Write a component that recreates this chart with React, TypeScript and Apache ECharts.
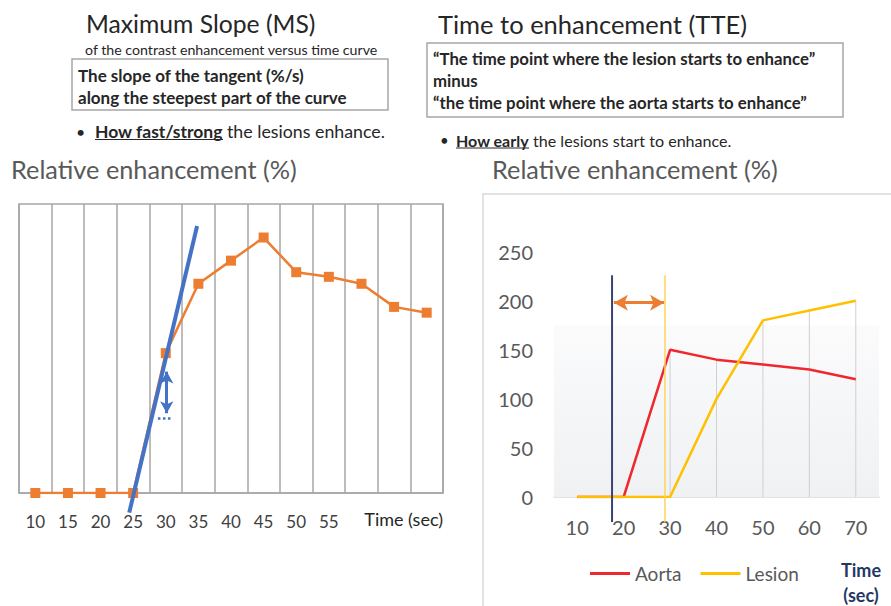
import React, { useEffect, useRef } from "react";
import * as echarts from "echarts";

// Left chart: maximum slope
const leftTimes = ["10", "15", "20", "25", "30", "35", "40", "45", "50", "55", "60", "65", "70"];
const leftValues = [0, 0, 0, 0, 121, 181, 201, 221, 191, 187, 181, 161, 156];
const tangentTime = [24.4, 34.8];
const tangentValue = [-17, 231];
const arrowTime = 30.15;
const arrowTop = 105;
const arrowBottom = 69;
const dotTime = [28.8, 31.1];
const dotValue = 65;

// Right chart: time to enhancement
const rightTimes = ["10", "20", "30", "40", "50", "60", "70"];
const aorta = [0, 0, 150, 140, 135, 130, 120];
const lesion = [0, 0, 0, 100, 180, 190, 200];
const aortaStart = 17.5;
const lesionStart = 28.9;
const markTop = 226;
const markBottom = -25.5;
const ttArrowTime = [17.9, 28.7];
const ttArrowValue = 198;
const floorTop = 175;

const F = "Lato, 'Open Sans', sans-serif";

export default function App() {
  const ref = useRef<HTMLDivElement>(null);
  useEffect(() => {
    const chart = echarts.init(ref.current!, null, { renderer: "svg" });
    const drop = aorta.map((a, i) => Math.max(a, lesion[i]));
    const txt = (x: number, y: number, text: string, size: number, opts: any = {}) => ({
      type: "text",
      x,
      y,
      z: 10,
      style: {
        text,
        fontSize: size,
        fontFamily: F,
        fontWeight: opts.bold ? "bold" : "normal",
        fill: opts.fill || "#262626",
        align: opts.align || "left",
        verticalAlign: "middle",
        lineHeight: opts.lineHeight,
      },
    });
    chart.setOption({
      animation: false,
      backgroundColor: "#ffffff",
      textStyle: { fontFamily: F },
      legend: {
        data: ["Aorta", "Lesion"],
        left: 585,
        top: 559,
        icon: "rect",
        itemWidth: 40,
        itemHeight: 3,
        itemGap: 19,
        textStyle: { fontSize: 19, color: "#595959", fontFamily: F },
      },
      grid: [
        { left: 19, top: 204, width: 424, height: 289, show: true, borderColor: "#a6a6a6", borderWidth: 1.5, backgroundColor: "transparent" },
        { left: 554, top: 251.7, width: 325, height: 245.3 },
      ],
      xAxis: [
        {
          type: "category",
          gridIndex: 0,
          data: leftTimes,
          boundaryGap: true,
          axisLine: { lineStyle: { color: "#a6a6a6", width: 1.5 } },
          axisTick: { show: false },
          splitLine: { show: true, interval: 0, lineStyle: { color: "#a6a6a6", width: 1.5 } },
          axisLabel: {
            interval: 0,
            fontSize: 17,
            color: "#404040",
            margin: 20,
            formatter: (v: string, i: number) => (i < 10 ? v : ""),
          },
          name: "Time (sec)",
          nameLocation: "end",
          nameGap: 0,
          nameTextStyle: { fontSize: 18, color: "#262626", align: "right", verticalAlign: "top", padding: [17, 0, 0, 0], fontFamily: F },
        },
        { type: "value", gridIndex: 0, min: 7.5, max: 72.5, show: false },
        {
          type: "category",
          gridIndex: 1,
          data: rightTimes,
          boundaryGap: true,
          axisLine: { lineStyle: { color: "#d9d9d9", width: 1.5 } },
          axisTick: { show: false },
          splitLine: { show: false },
          axisLabel: { fontSize: 20, color: "#595959", margin: 20 },
        },
        { type: "value", gridIndex: 1, min: 5, max: 75, show: false },
      ],
      yAxis: [
        { type: "value", gridIndex: 0, min: 0, max: 250, show: false },
        {
          type: "value",
          gridIndex: 1,
          min: 0,
          max: 250,
          interval: 50,
          axisLine: { show: false },
          axisTick: { show: false },
          splitLine: { show: false },
          axisLabel: { fontSize: 20, color: "#595959", margin: 21 },
        },
      ],
      series: [
        {
          name: "Curve",
          type: "line",
          xAxisIndex: 0,
          yAxisIndex: 0,
          data: leftValues,
          symbol: "rect",
          symbolSize: 10,
          itemStyle: { color: "#ED7D31" },
          lineStyle: { color: "#ED7D31", width: 2.5 },
          z: 3,
        },
        {
          name: "Tangent",
          type: "line",
          xAxisIndex: 1,
          yAxisIndex: 0,
          data: tangentTime.map((t, i) => [t, tangentValue[i]]),
          symbol: "none",
          clip: false,
          lineStyle: { color: "#4472C4", width: 4 },
          z: 5,
          markLine: {
            silent: true,
            label: { show: false },
            symbol: ["arrow", "arrow"],
            symbolSize: [10, 12],
            lineStyle: { color: "#4472C4", width: 3, type: "solid" },
            data: [
              [{ coord: [arrowTime, arrowTop] }, { coord: [arrowTime, arrowBottom] }],
              [
                { coord: [dotTime[0], dotValue], symbol: "none", lineStyle: { type: "dotted", width: 2.5, color: "#4472C4" } },
                { coord: [dotTime[1], dotValue], symbol: "none" },
              ],
            ],
          },
        },
        {
          name: "Drop",
          type: "bar",
          xAxisIndex: 2,
          yAxisIndex: 1,
          data: drop,
          barWidth: 1,
          silent: true,
          itemStyle: { color: "#d0d0d0" },
          z: 2,
          markArea: {
            silent: true,
            itemStyle: {
              color: new echarts.graphic.LinearGradient(0, 0, 0, 1, [
                { offset: 0, color: "#fbfbfc" },
                { offset: 1, color: "#eff1f3" },
              ]),
            },
            data: [[{ yAxis: 0 }, { yAxis: floorTop }]],
          },
        },
        {
          name: "Aorta",
          type: "line",
          xAxisIndex: 2,
          yAxisIndex: 1,
          data: aorta,
          symbol: "none",
          itemStyle: { color: "#F0282D" },
          lineStyle: { color: "#F0282D", width: 2.5 },
          z: 4,
        },
        {
          name: "Lesion",
          type: "line",
          xAxisIndex: 2,
          yAxisIndex: 1,
          data: lesion,
          symbol: "none",
          itemStyle: { color: "#FFC000" },
          lineStyle: { color: "#FFC000", width: 2.5 },
          z: 4,
        },
        {
          name: "AortaStart",
          type: "line",
          xAxisIndex: 3,
          yAxisIndex: 1,
          data: [[aortaStart, markTop], [aortaStart, markBottom]],
          symbol: "none",
          clip: false,
          lineStyle: { color: "#3B4374", width: 2 },
          z: 6,
          markLine: {
            silent: true,
            label: { show: false },
            symbol: ["arrow", "arrow"],
            symbolSize: [12, 14],
            lineStyle: { color: "#ED7D31", width: 3, type: "solid" },
            data: [[{ coord: [ttArrowTime[0], ttArrowValue] }, { coord: [ttArrowTime[1], ttArrowValue] }]],
          },
        },
        {
          name: "LesionStart",
          type: "line",
          xAxisIndex: 3,
          yAxisIndex: 1,
          data: [[lesionStart, markTop], [lesionStart, markBottom]],
          symbol: "none",
          clip: false,
          lineStyle: { color: "#FFD45A", width: 1.5 },
          z: 6,
        },
      ],
      graphic: [
        { type: "rect", z: -5, shape: { x: 483, y: 194, width: 430, height: 430 }, style: { fill: "#ffffff", stroke: "#d9d9d9", lineWidth: 1.5 } },
        txt(86, 23, "Maximum Slope (MS)", 24.7),
        txt(85, 49, "of the contrast enhancement versus time curve", 14.2),
        { type: "rect", z: 5, shape: { x: 72, y: 59, width: 316, height: 51 }, style: { fill: "#ffffff", stroke: "#a6a6a6", lineWidth: 1.5 } },
        txt(78, 75, "The slope of the tangent (%/s)", 17, { bold: true }),
        txt(78, 97, "along the steepest part of the curve", 17, { bold: true }),
        txt(76, 131, "•", 16),
        txt(95, 131, "How fast/strong", 17.5, { bold: true }),
        txt(227, 131, "the lesions enhance.", 17.8),
        { type: "line", z: 10, shape: { x1: 95, y1: 139.5, x2: 223, y2: 139.5 }, style: { stroke: "#262626", lineWidth: 1.2 } },
        txt(438, 24, "Time to enhancement (TTE)", 25.5),
        { type: "rect", z: 5, shape: { x: 427, y: 43, width: 416, height: 74 }, style: { fill: "#ffffff", stroke: "#a6a6a6", lineWidth: 1.5 } },
        txt(433, 58, "\u201cThe time point where the lesion starts to enhance\u201d", 16.8, { bold: true }),
        txt(433, 80, "minus", 16.8, { bold: true }),
        txt(433, 102, "\u201cthe time point where the aorta starts to enhance\u201d", 16.8, { bold: true }),
        txt(440, 140, "•", 15),
        txt(456, 140, "How early", 16, { bold: true }),
        txt(533, 140, "the lesions start to enhance.", 16.1),
        { type: "line", z: 10, shape: { x1: 456, y1: 148, x2: 529, y2: 148 }, style: { stroke: "#262626", lineWidth: 1.2 } },
        txt(11, 169, "Relative enhancement (%)", 25.3, { fill: "#595959" }),
        txt(492, 169, "Relative enhancement (%)", 25.3, { fill: "#595959" }),
        txt(861, 582, "Time\n(sec)", 18, { bold: true, fill: "#1F3864", align: "center", lineHeight: 25 }),
      ],
    });
    return () => chart.dispose();
  }, []);
  return (
    <div
      ref={ref}
      style={{ position: "fixed", left: 0, top: 0, width: 891, height: 606, background: "#fff" }}
    />
  );
}
